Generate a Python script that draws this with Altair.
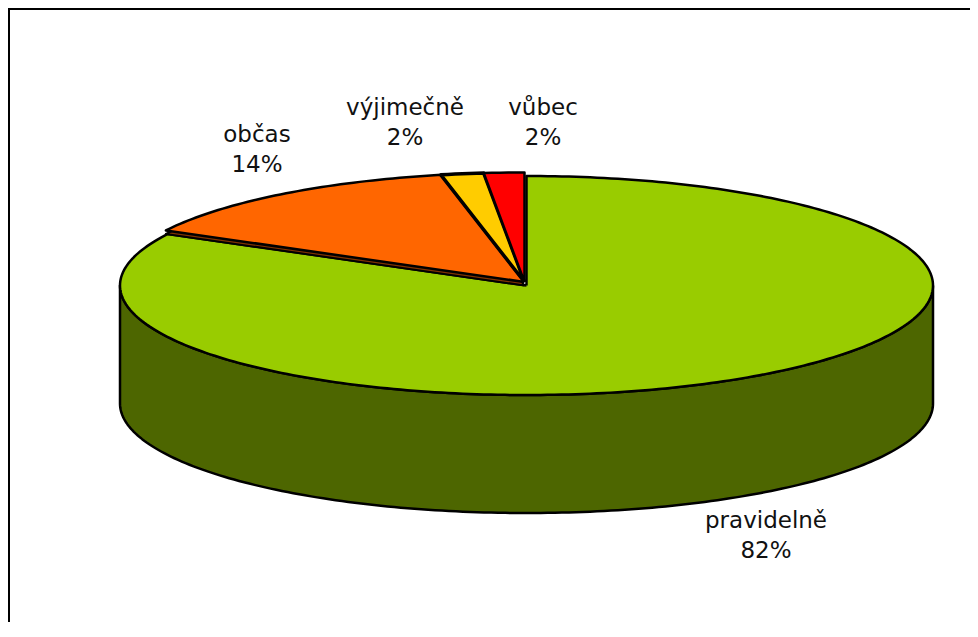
import math
import altair as alt
import pandas as pd

# Slice shares in percent, clockwise from 12 o'clock
categories = ["pravidelně", "občas", "výjimečně", "vůbec"]
shares = [82.8, 13.9, 1.7, 1.6]
labels = ["82%", "14%", "2%", "2%"]
colors = ["#99CC00", "#FF6600", "#FFCC00", "#FF0000"]
stroke_widths = [2, 2.5, 3.5, 2.5]
wall_color = "#4D6600"
sliver_color = "#803300"

W, H = 962, 614
CX, CY, RX, RY = 518.5, 277.5, 406.5, 109.5   # ellipse in plot pixels
DEPTH = 118 / RY
SHIFT_X, SHIFT_Y = -2 / RX, 3.5 / RY          # small slices are pulled out a little

x_scale = alt.Scale(domain=[-CX / RX, (W - CX) / RX], range=[0, W], nice=False)
y_scale = alt.Scale(domain=[(CY - H) / RY, CY / RY], range=[H, 0], nice=False)


def arc(a0, a1, dx=0.0, dy=0.0):
    n = max(2, int(abs(a1 - a0) / 1.0))
    pts = []
    for k in range(n + 1):
        a = math.radians(a0 + (a1 - a0) * k / n)
        pts.append((math.sin(a) + dx, math.cos(a) + dy))
    return pts


def layer(points, fill, sw=2):
    df = pd.DataFrame({"x": [p[0] for p in points], "y": [p[1] for p in points], "i": range(len(points))})
    return (
        alt.Chart(df)
        .mark_line(fill=fill, stroke="black", strokeWidth=sw, strokeJoin="round", clip=False)
        .encode(
            x=alt.X("x:Q", scale=x_scale, axis=None),
            y=alt.Y("y:Q", scale=y_scale, axis=None),
            order=alt.Order("i:Q"),
        )
    )


layers = []
# side wall (lower half of the disc)
top_edge = arc(90, 270)
bottom_edge = [(x, y - DEPTH) for x, y in reversed(top_edge)]
wall = top_edge + bottom_edge + [top_edge[0]]
layers.append(layer(wall, wall_color, 2.5))

# slices
angles = []
start = 0.0
for s in shares:
    angles.append((start, start + s * 3.6))
    start += s * 3.6

a0, a1 = angles[0]
layers.append(layer([(0, 0)] + arc(a0, a1) + [(0, 0)], colors[0], 2.5))

# thin side of the orange slice: a darker copy just below it
a0, a1 = angles[1]
o_low = (SHIFT_X, 0.0)
layers.append(layer([o_low] + arc(a0, a1, SHIFT_X, 0.0) + [o_low], sliver_color, 2))

for i in (1, 2, 3):
    a0, a1 = angles[i]
    o = (SHIFT_X, SHIFT_Y)
    layers.append(layer([o] + arc(a0, a1, SHIFT_X, SHIFT_Y) + [o], colors[i], stroke_widths[i]))

# labels: anchor is the first text line
label_px = [(758, 513), (249, 127), (397, 100), (535, 100)]
lab = pd.DataFrame(
    {
        "t": [c + "\n" + v for c, v in zip(categories, labels)],
        "x": [(p[0] - CX) / RX for p in label_px],
        "y": [(CY - p[1]) / RY for p in label_px],
    }
)
text = (
    alt.Chart(lab)
    .mark_text(font="DejaVu Sans", fontSize=23, color="#111111", lineBreak="\n", lineHeight=30, align="center", baseline="middle")
    .encode(
        x=alt.X("x:Q", scale=x_scale, axis=None),
        y=alt.Y("y:Q", scale=y_scale, axis=None),
        text="t:N",
    )
)
layers.append(text)

# chart frame: only its left and top edges fall inside the picture
helper = pd.DataFrame({"a": [0]})
layers.append(alt.Chart(helper).mark_rule(color="black", strokeWidth=2).encode(x=alt.value(1), y=alt.value(0), y2=alt.value(H)))
layers.append(alt.Chart(helper).mark_rule(color="black", strokeWidth=2).encode(x=alt.value(0), x2=alt.value(W), y=alt.value(1)))

chart = (
    alt.layer(*layers)
    .properties(width=W, height=H, padding=0, background="white", autosize=alt.AutoSizeParams(type="none"))
    .configure_view(stroke=None)
)
chart.save("out.html", embed_options={"renderer": "svg", "actions": False})
